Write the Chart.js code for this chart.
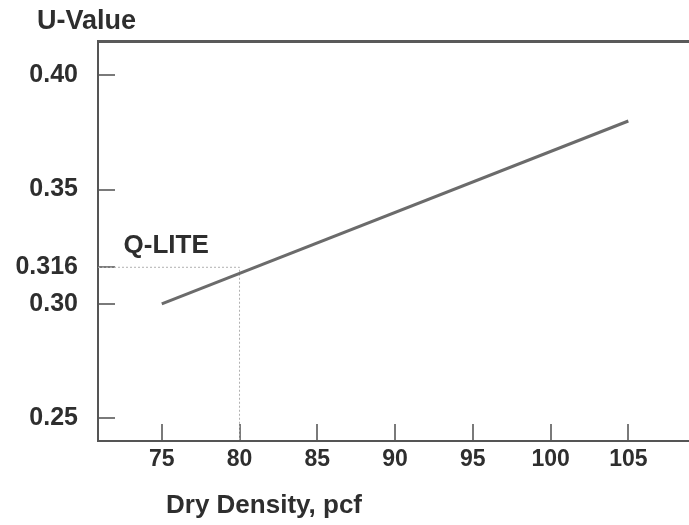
<!DOCTYPE html>
<html>
<head>
<meta charset="utf-8">
<script src="https://cdn.jsdelivr.net/npm/chart.js@4/dist/chart.umd.min.js"></script>
<style>
  html, body { margin: 0; padding: 0; background: #ffffff; }
  #wrap { width: 689px; height: 525px; }
</style>
</head>
<body>
<div id="wrap"><canvas id="c" width="689" height="525"></canvas></div>
<script>
// ---- data ----
const densities = [75, 105];          // Dry Density, pcf
const uValues = [0.30, 0.38];         // U-Value
const xTicks = [75, 80, 85, 90, 95, 100, 105];
const yTicks = [0.25, 0.30, 0.316, 0.35, 0.40];
const yTickLabels = ['0.25', '0.30', '0.316', '0.35', '0.40'];
const qliteDensity = 80;
const qliteU = 0.316;
const xRange = [70.9, 108.9];
const yRange = [0.24, 0.415];

const TEXT = '#2e2e2e';
const AXIS = '#555555';
const FONT = "'Liberation Sans', Arial, sans-serif";

const lineData = densities.map((d, i) => ({ x: d, y: uValues[i] }));
const guideData = [
  { x: xRange[0], y: qliteU },
  { x: qliteDensity, y: qliteU },
  { x: qliteDensity, y: yRange[0] }
];

const textPlugin = {
  id: 'texts',
  afterDraw(chart) {
    const ctx = chart.ctx;
    const xs = chart.scales.x, ys = chart.scales.y;
    ctx.save();
    ctx.fillStyle = TEXT;
    ctx.textBaseline = 'alphabetic';
    ctx.textAlign = 'left';
    ctx.font = "bold 27px " + FONT;
    ctx.fillText('U-Value', 37, 29);
    ctx.font = "bold 26px " + FONT;
    ctx.fillText('Dry Density, pcf', 166, 513);
    const px = xs.getPixelForValue(qliteDensity);
    const py = ys.getPixelForValue(qliteU);
    ctx.fillText('Q-LITE', px - 116, py - 14);
    ctx.restore();
  }
};

function noPad(s) { s.paddingTop = 0; s.paddingBottom = 0; s.paddingLeft = 0; s.paddingRight = 0; }

new Chart(document.getElementById('c'), {
  type: 'line',
  data: {
    datasets: [
      {
        data: lineData,
        borderColor: '#6b6b6b',
        borderWidth: 3,
        pointRadius: 0,
        tension: 0
      },
      {
        data: guideData,
        borderColor: '#b0b0b0',
        borderWidth: 1,
        borderDash: [2, 2],
        pointRadius: 0,
        tension: 0
      }
    ]
  },
  options: {
    responsive: false,
    animation: false,
    layout: { padding: 0 },
    plugins: { legend: { display: false }, tooltip: { enabled: false }, title: { display: false } },
    scales: {
      x: {
        type: 'linear',
        position: 'bottom',
        min: xRange[0],
        max: xRange[1],
        afterBuildTicks: s => { s.ticks = xTicks.map(v => ({ value: v })); },
        afterFit: s => { s.height = 84; noPad(s); },
        ticks: {
          color: TEXT,
          font: { family: FONT, size: 23, weight: 'bold' },
          padding: 22,
          maxRotation: 0,
          autoSkip: false,
          callback: v => String(v)
        },
        grid: {
          display: true,
          drawOnChartArea: false,
          drawTicks: true,
          tickLength: -17,
          color: '#7a7a7a',
          lineWidth: 2
        },
        border: { display: true, color: AXIS, width: 2 }
      },
      xTop: {
        type: 'linear',
        position: 'top',
        min: xRange[0],
        max: xRange[1],
        afterFit: s => { s.height = 41; noPad(s); },
        ticks: { display: false },
        grid: { display: false, drawTicks: false },
        border: { display: true, color: '#5a5a5a', width: 3 }
      },
      y: {
        type: 'linear',
        position: 'left',
        min: yRange[0],
        max: yRange[1],
        afterBuildTicks: s => { s.ticks = yTicks.map(v => ({ value: v })); },
        afterFit: s => { s.width = 98; noPad(s); },
        ticks: {
          color: TEXT,
          font: { family: FONT, size: 25, weight: 'bold' },
          padding: 37,
          autoSkip: false,
          callback: (v) => { const i = yTicks.indexOf(v); return i >= 0 ? yTickLabels[i] : ''; }
        },
        grid: {
          display: true,
          drawOnChartArea: false,
          drawTicks: true,
          tickLength: -17,
          color: '#7a7a7a',
          lineWidth: 2
        },
        border: { display: true, color: AXIS, width: 2 }
      }
    }
  },
  plugins: [textPlugin]
});
</script>
</body>
</html>
